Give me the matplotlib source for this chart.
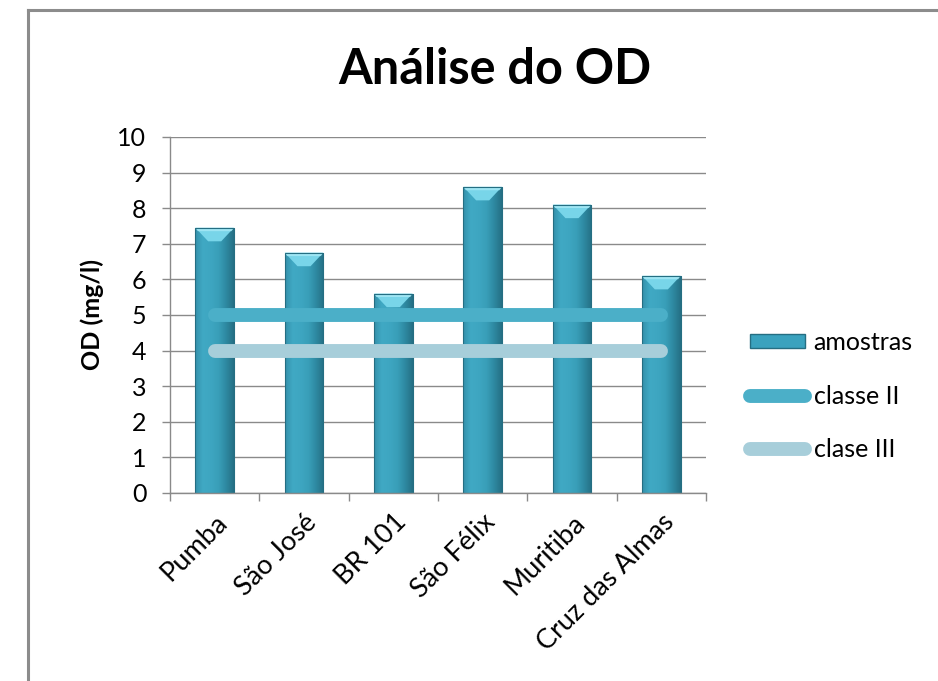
import numpy as np
import matplotlib
matplotlib.use("Agg")
import matplotlib.pyplot as plt
from matplotlib.colors import LinearSegmentedColormap
from matplotlib.lines import Line2D
from matplotlib.patches import Rectangle, Polygon

plt.rcParams['font.family'] = ['Lato', 'DejaVu Sans']

# Dissolved oxygen per sampling site
sites = ["Pumba", "São José", "BR 101", "São Félix", "Muritiba", "Cruz das Almas"]
od_values = [7.45, 6.75, 5.6, 8.6, 8.1, 6.1]
classe_ii = [5, 5, 5, 5, 5, 5]
clase_iii = [4, 4, 4, 4, 4, 4]
y_ticks = [0, 1, 2, 3, 4, 5, 6, 7, 8, 9, 10]

bar_mid = "#3aa2be"
bar_edge = "#256e82"
line_ii = "#4bafc8"
line_iii = "#a7ceda"
grid_col = "#8a8a8a"

fig = plt.figure(figsize=(9.38, 6.81), dpi=100)
ax = fig.add_axes([170 / 938, 1 - 493 / 681, 536 / 938, 356 / 681])

x = np.arange(len(sites))
bar_w = 0.43
bars = ax.bar(x, od_values, width=bar_w, color=bar_mid, edgecolor=bar_edge,
              linewidth=0.6, zorder=2)

# horizontal shading across each bar plus a bevelled cap
shade = LinearSegmentedColormap.from_list(
    "shade", ["#3490aa", "#40a9c4", "#3ea6c1", "#399fb9", "#2e89a1", "#256f84"])
grad = np.linspace(0, 1, 256).reshape(1, -1)
bevel = 0.38
for xi, val, patch in zip(x, od_values, bars):
    x0, x1 = xi - bar_w / 2, xi + bar_w / 2
    im = ax.imshow(grad, cmap=shade, aspect="auto", extent=[x0, x1, 0, val],
                   zorder=2.1, interpolation="bilinear")
    im.set_clip_path(patch)
    cap = Polygon([[x0, val], [x1, val], [xi + bar_w * 0.17, val - bevel],
                   [xi - bar_w * 0.17, val - bevel]], closed=True,
                  facecolor="#78d5e9", edgecolor="none", zorder=2.2)
    ax.add_patch(cap)
    top = Polygon([[x0, val], [x1, val], [x1 - bar_w * 0.06, val - bevel * 0.25],
                   [x0 + bar_w * 0.06, val - bevel * 0.25]], closed=True,
                  facecolor="#a8eaf6", edgecolor="none", alpha=0.8, zorder=2.3)
    ax.add_patch(top)
    ax.add_patch(Rectangle((x0, 0), bar_w, val, fill=False,
                           edgecolor=bar_edge, linewidth=0.8, zorder=2.4))

ax.plot(x, classe_ii, color=line_ii, linewidth=10, solid_capstyle="round",
        zorder=3, label="classe II")
ax.plot(x, clase_iii, color=line_iii, linewidth=10, solid_capstyle="round",
        zorder=3, label="clase III")

ax.set_xlim(-0.5, len(sites) - 0.5)
ax.set_ylim(0, 10)
ax.set_yticks(y_ticks)
ax.set_yticklabels([str(t) for t in y_ticks], fontsize=18)
ax.yaxis.grid(True, color=grid_col, linewidth=1.0, zorder=0)
ax.set_axisbelow(True)

ax.set_xticks(np.arange(len(sites) + 1) - 0.5, minor=False)
ax.set_xticklabels([])
ax.set_xticks(x, minor=True)
ax.set_xticklabels(sites, minor=True, rotation=45, ha="right",
                   rotation_mode="anchor", fontsize=19.5)
ax.tick_params(axis="x", which="minor", length=0, pad=12)
ax.tick_params(axis="x", which="major", length=6, color=grid_col, width=1)
ax.tick_params(axis="y", length=6, color=grid_col, width=1, pad=11)

for side in ["top", "right"]:
    ax.spines[side].set_visible(False)
for side in ["left", "bottom"]:
    ax.spines[side].set_color(grid_col)
    ax.spines[side].set_linewidth(1.0)

ax.set_ylabel("OD (mg/l)", fontsize=18, fontweight="bold", labelpad=10)

fig.text(495 / 938, 1 - 70 / 681, "Análise do OD", ha="center", va="center",
         fontsize=35, fontweight="bold")

handles = [
    Rectangle((0, 0), 1, 1, facecolor=bar_mid, edgecolor=bar_edge, linewidth=1),
    Line2D([], [], color=line_ii, linewidth=10, solid_capstyle="round"),
    Line2D([], [], color=line_iii, linewidth=10, solid_capstyle="round"),
]
fig.legend(handles, ["amostras", "classe II", "clase III"],
           loc="center left", bbox_to_anchor=(750 / 938, 1 - 396 / 681),
           frameon=False, fontsize=18, handlelength=2.2, handleheight=0.5,
           handletextpad=0.35, labelspacing=1.22, borderaxespad=0, borderpad=0)

# chart area border
border = "#8c8c8c"
fig.add_artist(Line2D([28 / 938, 28 / 938], [0, 1 - 10 / 681], color=border,
                      linewidth=2.2, transform=fig.transFigure))
fig.add_artist(Line2D([28 / 938, 1], [1 - 10 / 681, 1 - 10 / 681], color=border,
                      linewidth=2.2, transform=fig.transFigure))

fig.savefig("out.png", dpi=100)
